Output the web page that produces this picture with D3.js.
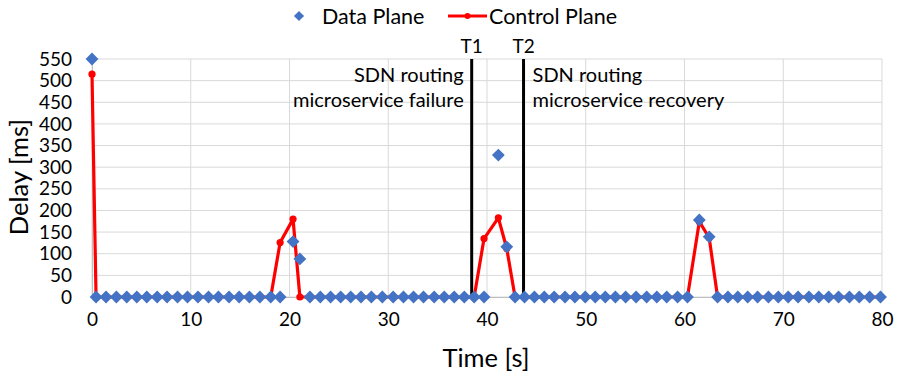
<!DOCTYPE html>
<html>
<head>
<meta charset="utf-8">
<script src="https://cdn.jsdelivr.net/npm/d3@7"></script>
<style>
  html, body { margin: 0; padding: 0; background: #fff; }
  svg { display: block; font-family: Lato, "Open Sans", sans-serif; }
</style>
</head>
<body>
<svg id="chart" width="898" height="373"></svg>
<script>
// ---- data ----
const timeSec = [0, 0.41, 1.42, 2.47, 3.52, 4.54, 5.55, 6.6, 7.6, 8.66, 9.67, 10.73, 11.8, 12.8, 13.88, 14.9,
  15.94, 17.0, 18.1, 19.05, 20.36, 21.05, 22.07, 23.12, 24.16, 25.18, 26.2, 27.24, 28.29, 29.4, 30.5, 31.54,
  32.56, 33.57, 34.65, 35.67, 36.68, 37.7, 38.7, 39.7, 41.15, 42.0, 42.84, 43.8, 44.8, 45.8, 46.8, 47.9,
  48.9, 49.95, 50.96, 51.98, 53.0, 54.04, 55.1, 56.17, 57.2, 58.2, 59.3, 60.3, 61.5, 62.5, 63.35, 64.4,
  65.4, 66.4, 67.4, 68.5, 69.5, 70.5, 71.5, 72.6, 73.6, 74.6, 75.6, 76.7, 77.7, 78.75, 79.85];
const dataPlane = [550, 0, 0, 0, 0, 0, 0, 0, 0, 0, 0, 0, 0, 0, 0, 0,
  0, 0, 0, 0, 128, 88, 0, 0, 0, 0, 0, 0, 0, 0, 0, 0,
  0, 0, 0, 0, 0, 0, 0, 0, 328, 116, 0, 0, 0, 0, 0, 0,
  0, 0, 0, 0, 0, 0, 0, 0, 0, 0, 0, 0, 178, 139, 0, 0,
  0, 0, 0, 0, 0, 0, 0, 0, 0, 0, 0, 0, 0, 0, 0];
const controlPlane = [515, 0, 0, 0, 0, 0, 0, 0, 0, 0, 0, 0, 0, 0, 0, 0,
  0, 0, 0, 126, 180, 0, 0, 0, 0, 0, 0, 0, 0, 0, 0, 0,
  0, 0, 0, 0, 0, 0, 0, 135, 183, 112, 0, 0, 0, 0, 0, 0,
  0, 0, 0, 0, 0, 0, 0, 0, 0, 0, 0, 0, 174, 137, 0, 0,
  0, 0, 0, 0, 0, 0, 0, 0, 0, 0, 0, 0, 0, 0, 0];
const xTicks = [0, 10, 20, 30, 40, 50, 60, 70, 80];
const yTicks = [0, 50, 100, 150, 200, 250, 300, 350, 400, 450, 500, 550];
const events = [
  { t: 38.45, label: "T1" },
  { t: 43.7, label: "T2" }
];
const seriesNames = ["Data Plane", "Control Plane"];
const xTitle = "Time [s]";
const yTitle = "Delay [ms]";
const failureText = ["SDN routing", "microservice failure"];
const recoveryText = ["SDN routing", "microservice recovery"];

// ---- layout ----
const svg = d3.select("#chart");
const blue = "#4472C4", red = "#FF0000", grid = "#d9d9d9", txt = "#000";
const x = d3.scaleLinear().domain([0, 80]).range([92, 882]);
const y = d3.scaleLinear().domain([0, 550]).range([297, 59]);

// gridlines
const gridG = svg.append("g");
gridG.selectAll("line.h").data(yTicks).join("line")
  .attr("x1", x(0)).attr("x2", x(80))
  .attr("y1", d => y(d)).attr("y2", d => y(d))
  .attr("stroke", grid).attr("stroke-width", 1);
gridG.selectAll("line.v").data(xTicks).join("line")
  .attr("class", "v")
  .attr("x1", d => x(d)).attr("x2", d => x(d))
  .attr("y1", y(0)).attr("y2", y(550))
  .attr("stroke", grid).attr("stroke-width", 1);

// axes
const xAxis = svg.append("g").attr("transform", `translate(0,${y(0)})`)
  .call(d3.axisBottom(x).tickValues(xTicks).tickSize(0).tickPadding(16).tickFormat(d3.format("d")));
xAxis.select(".domain").attr("stroke", "#bfbfbf");
xAxis.selectAll("text").attr("font-size", 19).attr("fill", txt).attr("font-family", "Lato");

const yAxis = svg.append("g").attr("transform", `translate(${x(0)},0)`)
  .call(d3.axisLeft(y).tickValues(yTicks).tickSize(0).tickPadding(20).tickFormat(d3.format("d")));
yAxis.select(".domain").attr("stroke", "#bfbfbf");
yAxis.selectAll("text").attr("font-size", 19).attr("fill", txt).attr("font-family", "Lato");

// axis titles
svg.append("text").attr("x", 486).attr("y", 367).attr("text-anchor", "middle")
  .attr("font-size", 25.5).attr("fill", txt).text(xTitle);
svg.append("text").attr("transform", `translate(28,${177}) rotate(-90)`).attr("text-anchor", "middle")
  .attr("font-size", 25.5).attr("fill", txt).text(yTitle);

// event lines
const evG = svg.append("g");
evG.selectAll("line").data(events).join("line")
  .attr("x1", d => x(d.t)).attr("x2", d => x(d.t))
  .attr("y1", y(550)).attr("y2", y(0))
  .attr("stroke", "#000").attr("stroke-width", 3);
evG.selectAll("text").data(events).join("text")
  .attr("x", d => x(d.t)).attr("y", 53).attr("text-anchor", "middle")
  .attr("font-size", 19).attr("fill", txt).text(d => d.label);

// annotations
svg.append("g").selectAll("text").data(failureText).join("text")
  .attr("x", x(events[0].t) - 8).attr("y", (d, i) => 82 + i * 25)
  .attr("text-anchor", "end").attr("font-size", 20).attr("fill", txt).text(d => d);
svg.append("g").selectAll("text").data(recoveryText).join("text")
  .attr("x", x(events[1].t) + 9).attr("y", (d, i) => 82 + i * 25)
  .attr("text-anchor", "start").attr("font-size", 20).attr("fill", txt).text(d => d);

// control plane line
const pts = timeSec.map((t, i) => ({ t, d: dataPlane[i], c: controlPlane[i] }));
const line = d3.line().x(d => x(d.t)).y(d => y(d.c));
svg.append("path").datum(pts).attr("d", line)
  .attr("fill", "none").attr("stroke", red).attr("stroke-width", 3.2).attr("stroke-linejoin", "round");
svg.append("g").selectAll("circle").data(pts).join("circle")
  .attr("cx", d => x(d.t)).attr("cy", d => y(d.c)).attr("r", 3.6).attr("fill", red);

// data plane diamonds
const diamond = d3.symbol().type(d3.symbolDiamond2).size(105);
svg.append("g").selectAll("path").data(pts).join("path")
  .attr("transform", d => `translate(${x(d.t)},${y(d.d)})`)
  .attr("d", diamond).attr("fill", blue);

// legend
const lg = svg.append("g");
lg.append("path").attr("transform", "translate(299,16)").attr("d", d3.symbol().type(d3.symbolDiamond2).size(65)).attr("fill", blue);
lg.append("text").attr("x", 322).attr("y", 24).attr("font-size", 21.5).attr("fill", txt).text(seriesNames[0]);
lg.append("line").attr("x1", 448).attr("x2", 487).attr("y1", 16).attr("y2", 16).attr("stroke", red).attr("stroke-width", 3);
lg.append("circle").attr("cx", 467.5).attr("cy", 16).attr("r", 3).attr("fill", red);
lg.append("text").attr("x", 489).attr("y", 24).attr("font-size", 21.5).attr("fill", txt).text(seriesNames[1]);
</script>
</body>
</html>
